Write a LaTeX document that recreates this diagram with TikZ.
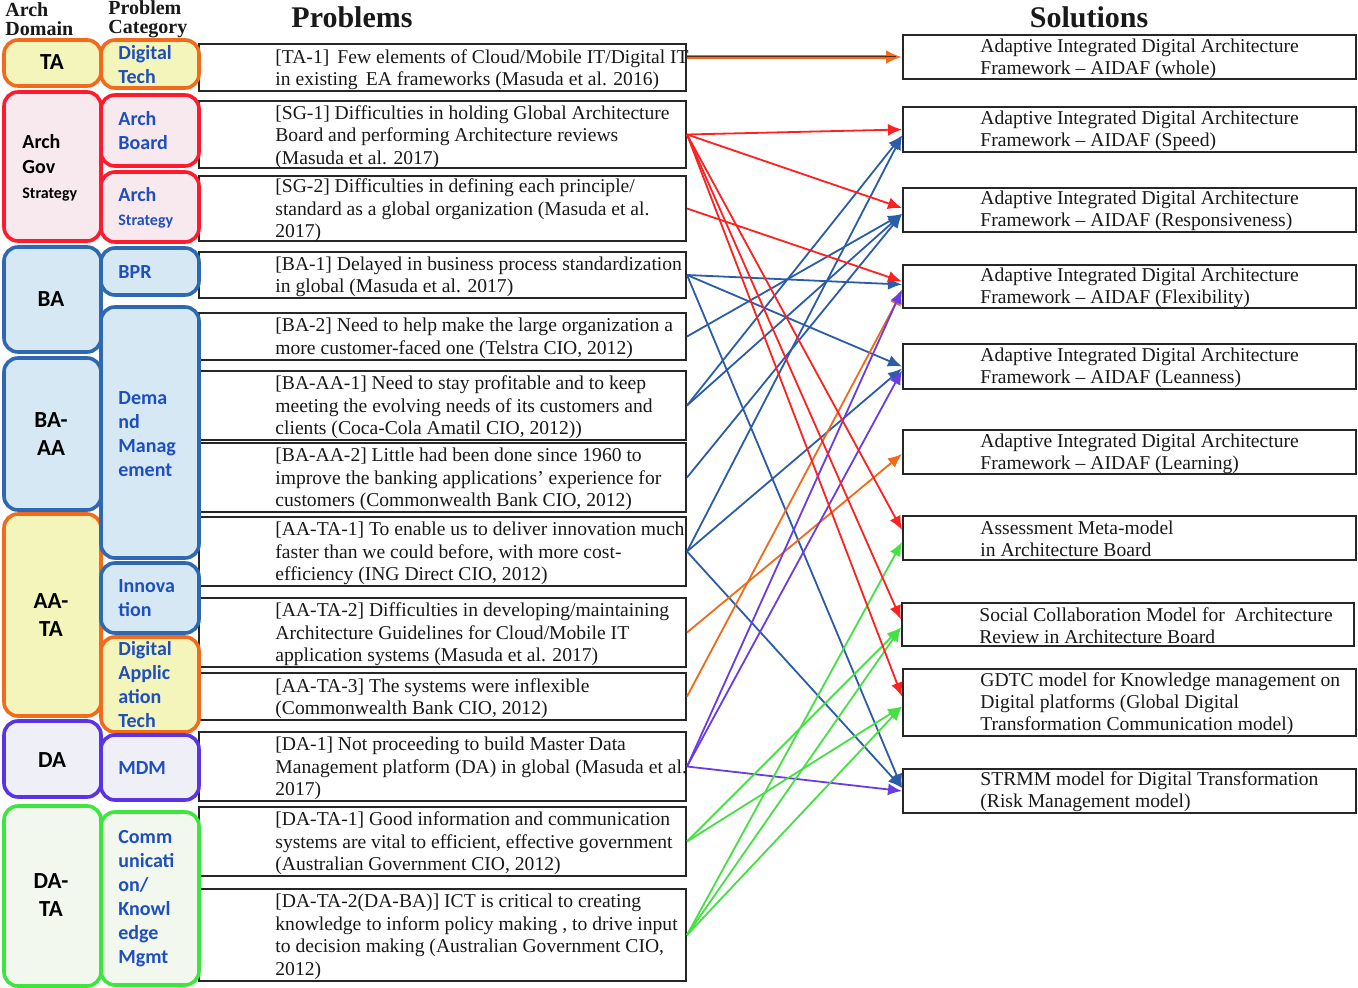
\documentclass[tikz,border=0pt]{standalone}
\usepackage{fontspec}
\usetikzlibrary{arrows.meta,fit,calc}
\newfontfamily\serifx[Ligatures=TeX]{Liberation Serif}
\newfontfamily\sansx{Carlito}
\definecolor{cOr}{HTML}{F26A1B}
\definecolor{cYe}{HTML}{F3F5BB}
\definecolor{cRe}{HTML}{FF1A2E}
\definecolor{cPk}{HTML}{F8E9EE}
\definecolor{cBl}{HTML}{2E68B2}
\definecolor{cLb}{HTML}{D5E8F4}
\definecolor{cPu}{HTML}{5A33E6}
\definecolor{cLv}{HTML}{EFEFF7}
\definecolor{cGr}{HTML}{3DE63D}
\definecolor{cLg}{HTML}{F3F8EF}
\definecolor{cTx}{HTML}{1F4FBF}
\definecolor{aRe}{HTML}{FF2020}
\definecolor{aBl}{HTML}{2A5CA8}
\definecolor{aOr}{HTML}{F06A1A}
\definecolor{aPu}{HTML}{6A3CE6}
\definecolor{aGr}{HTML}{44E044}
\definecolor{aDk}{HTML}{5A2A10}
\tikzset{
  rbox/.style={rounded corners=7pt, line width=1.8pt, inner sep=0pt},
  pbox/.style={draw=black!85, line width=1pt, inner sep=0pt},
  ptxt/.style={anchor=west, align=left, inner sep=0pt, text=black!90,
    font=\serifx\fontsize{9.8}{11.25}\selectfont},
  stxt/.style={anchor=west, align=left, inner sep=0pt, text=black!90,
    font=\serifx\fontsize{9.8}{11}\selectfont},
  ctxt/.style={anchor=west, align=left, inner sep=0pt, text=cTx,
    font=\sansx\bfseries\fontsize{10}{12}\selectfont},
  dtxt/.style={align=center, inner sep=0pt, text=black,
    font=\sansx\bfseries\fontsize{11.5}{14}\selectfont},
  htxt/.style={anchor=west, align=left, inner sep=0pt, text=black!90,
    font=\serifx\bfseries\fontsize{10}{9.5}\selectfont},
  ttl/.style={inner sep=0pt, text=black!90, font=\serifx\bfseries\fontsize{15}{16}\selectfont},
  conn/.style={line width=0.9pt, -{Latex[length=7pt,width=6pt]}},
}
\begin{document}
\begin{tikzpicture}[x=0.5pt,y=-0.5pt]
\useasboundingbox[fill=white] (0,0) rectangle (1358,988);

% headers
\node[htxt] (hd) at (5,19) {Arch\\Domain};
\node[htxt] (hc) at (108,19) {Problem\\Category};
\node[ttl] (hp) at (352,17) {Problems};
\node[ttl] (hs) at (1089,17) {Solutions};

% problem boxes
\node[pbox, fit={(199,44)(686,91)}] (p1) {};
\node[pbox, fit={(199,101)(686,168)}] (p2) {};
\node[pbox, fit={(199,176)(686,241)}] (p3) {};
\node[pbox, fit={(199,252)(686,298)}] (p4) {};
\node[pbox, fit={(199,313)(686,360)}] (p5) {};
\node[pbox, fit={(199,371)(686,440)}] (p6) {};
\node[pbox, fit={(199,443)(686,512)}] (p7) {};
\node[pbox, fit={(199,517)(686,586)}] (p8) {};
\node[pbox, fit={(199,598)(686,667)}] (p9) {};
\node[pbox, fit={(199,673)(686,720)}] (p10) {};
\node[pbox, fit={(199,732)(686,801)}] (p11) {};
\node[pbox, fit={(199,807)(686,876)}] (p12) {};
\node[pbox, fit={(199,889)(686,981)}] (p13) {};

\node[ptxt] (t1) at (275,69.5) {[TA-1]\, Few elements of Cloud/Mobile IT/Digital IT\\in existing\, EA frameworks (Masuda et al. 2016)};
\node[ptxt] (t2) at (275,137) {[SG-1] Difficulties in holding Global Architecture\\Board and performing Architecture reviews\\(Masuda et al. 2017)};
\node[ptxt] (t3) at (275,210.5) {[SG-2] Difficulties in defining each principle/\\standard as a global organization (Masuda et al.\\2017)};
\node[ptxt] (t4) at (275,277) {[BA-1] Delayed in business process standardization\\in global (Masuda et al. 2017)};
\node[ptxt] (t5) at (275,338.5) {[BA-2] Need to help make the large organization a\\more customer-faced one (Telstra CIO, 2012)};
\node[ptxt] (t6) at (275,407.5) {[BA-AA-1] Need to stay profitable and to keep\\meeting the evolving needs of its customers and\\clients (Coca-Cola Amatil CIO, 2012))};
\node[ptxt] (t7) at (275,479.5) {[BA-AA-2] Little had been done since 1960 to\\improve the banking applications' experience for\\customers (Commonwealth Bank CIO, 2012)};
\node[ptxt] (t8) at (275,553.5) {[AA-TA-1] To enable us to deliver innovation much\\faster than we could before, with more cost-\\efficiency (ING Direct CIO, 2012)};
\node[ptxt] (t9) at (275,634.5) {[AA-TA-2] Difficulties in developing/maintaining\\Architecture Guidelines for Cloud/Mobile IT\\application systems (Masuda et al. 2017)};
\node[ptxt] (t10) at (275,698.5) {[AA-TA-3] The systems were inflexible\\(Commonwealth Bank CIO, 2012)};
\node[ptxt] (t11) at (275,768.5) {[DA-1] Not proceeding to build Master Data\\Management platform (DA) in global (Masuda et al.\\2017)};
\node[ptxt] (t12) at (275,843.5) {[DA-TA-1] Good information and communication\\systems are vital to efficient, effective government\\(Australian Government CIO, 2012)};
\node[ptxt] (t13) at (275,937) {[DA-TA-2(DA-BA)] ICT is critical to creating\\knowledge to inform policy making , to drive input\\to decision making (Australian Government CIO,\\2012)};

% domain boxes
\node[rbox, draw=cOr, fill=cYe, fit={(4,40)(101,86)}] (dTA) {};
\node[rbox, draw=cRe, fill=cPk, fit={(4,92)(101,241)}] (dAG) {};
\node[rbox, draw=cBl, fill=cLb, fit={(4,247)(101,352)}] (dBA) {};
\node[rbox, draw=cBl, fill=cLb, fit={(4,358)(101,510)}] (dBAAA) {};
\node[rbox, draw=cOr, fill=cYe, fit={(4,514)(101,716)}] (dAATA) {};
\node[rbox, draw=cPu, fill=cLv, fit={(4,721)(101,797)}] (dDA) {};
\node[rbox, draw=cGr, fill=cLg, fit={(4,806)(101,986)}] (dDATA) {};

\node[dtxt] (xTA) at (52,62) {TA};
\node[dtxt, anchor=west, align=left, font=\sansx\bfseries\fontsize{10}{12.5}\selectfont] (xAG) at (22,168) {Arch\\Gov\\{\fontsize{8}{10}\selectfont Strategy}};
\node[dtxt] (xBA) at (51,299) {BA};
\node[dtxt] (xBAAA) at (51,434) {BA-\\AA};
\node[dtxt] (xAATA) at (51,615) {AA-\\TA};
\node[dtxt] (xDA) at (52,760) {DA};
\node[dtxt] (xDATA) at (51,895) {DA-\\TA};

% category boxes
\node[rbox, draw=cOr, fill=cYe, fit={(101,40)(199,88)}] (cDT) {};
\node[rbox, draw=cRe, fill=cPk, fit={(101,95)(199,166)}] (cAB) {};
\node[rbox, draw=cRe, fill=cPk, fit={(101,172)(199,242)}] (cAS) {};
\node[rbox, draw=cBl, fill=cLb, fit={(101,248)(199,295)}] (cBPR) {};
\node[rbox, draw=cBl, fill=cLb, fit={(101,307)(199,558)}] (cDM) {};
\node[rbox, draw=cBl, fill=cLb, fit={(101,563)(199,633)}] (cIN) {};
\node[rbox, draw=cOr, fill=cYe, fit={(101,637)(199,732)}] (cDAT) {};
\node[rbox, draw=cPu, fill=cLv, fit={(101,735)(199,800)}] (cMDM) {};
\node[rbox, draw=cGr, fill=cLg, fit={(101,812)(199,985)}] (cCK) {};

\node[ctxt] (yDT) at (118,65) {Digital\\Tech};
\node[ctxt] (yAB) at (118,131) {Arch\\Board};
\node[ctxt] (yAS) at (118,208) {Arch\\{\fontsize{8}{10}\selectfont Strategy}};
\node[ctxt] (yBPR) at (118,272) {BPR};
\node[ctxt] (yDM) at (118,434) {Dema\\nd\\Manag\\ement};
\node[ctxt] (yIN) at (118,598) {Innova\\tion};
\node[ctxt] (yDAT) at (118,685) {Digital\\Applic\\ation\\Tech};
\node[ctxt] (yMDM) at (118,768) {MDM};
\node[ctxt] (yCK) at (118,899) {Comm\\unicati\\on/\\Knowl\\edge\\Mgmt};

% solution boxes
\node[pbox, fit={(903,35)(1356,79)}] (s1) {};
\node[pbox, fit={(903,107)(1356,152)}] (s2) {};
\node[pbox, fit={(903,188)(1356,232)}] (s3) {};
\node[pbox, fit={(903,265)(1356,308)}] (s4) {};
\node[pbox, fit={(903,344)(1356,389)}] (s5) {};
\node[pbox, fit={(903,430)(1356,474)}] (s6) {};
\node[pbox, fit={(903,516)(1356,560)}] (s7) {};
\node[pbox, fit={(902,603)(1354,646)}] (s8) {};
\node[pbox, fit={(903,669)(1356,736)}] (s9) {};
\node[pbox, fit={(903,769)(1356,813)}] (s10) {};

\node[stxt] (u1) at (980,59) {Adaptive Integrated Digital Architecture\\Framework \textendash\ AIDAF (whole)};
\node[stxt] (u2) at (980,131) {Adaptive Integrated Digital Architecture\\Framework \textendash\ AIDAF (Speed)};
\node[stxt] (u3) at (980,211) {Adaptive Integrated Digital Architecture\\Framework \textendash\ AIDAF (Responsiveness)};
\node[stxt] (u4) at (980,288) {Adaptive Integrated Digital Architecture\\Framework \textendash\ AIDAF (Flexibility)};
\node[stxt] (u5) at (980,368) {Adaptive Integrated Digital Architecture\\Framework \textendash\ AIDAF (Leanness)};
\node[stxt] (u6) at (980,454) {Adaptive Integrated Digital Architecture\\Framework \textendash\ AIDAF (Learning)};
\node[stxt] (u7) at (980,539) {Assessment Meta-model\\in Architecture Board};
\node[stxt] (u8) at (979,626) {Social Collaboration Model for\ \ Architecture\\Review in Architecture Board};
\node[stxt] (u9) at (980,704) {GDTC model for Knowledge management on\\Digital platforms (Global Digital\\Transformation Communication model)};
\node[stxt] (u10) at (980,792) {STRMM model for Digital Transformation\\(Risk Management model)};

% connectors
\draw[line width=2pt, aOr, -{Latex[length=8pt,width=7pt]}] (s1.west -| p1.east) -- (s1.west);
\draw[line width=0.5pt, aDk, shorten >=3pt] (s1.west -| p1.east) -- (s1.west);

\begin{scope}[conn, aBl]
\draw (p4.east) -- ($(s4.west)+(0,-2)$);
\draw (p4.east) -- ($(s5.west)+(0,0)$);
\draw (p4.east) -- ($(s10.west)+(0,-3)$);
\draw (p5.east) -- ($(s3.west)+(0,4)$);
\draw (p6.east) -- ($(s2.west)+(0,6)$);
\draw (p6.east) -- ($(s3.west)+(0,4)$);
\draw (p7.east) -- ($(s3.west)+(0,4)$);
\draw (p8.east) -- ($(s2.west)+(0,6)$);
\draw (p8.east) -- ($(s5.west)+(0,2)$);
\draw (p8.east) -- ($(s10.west)+(0,-3)$);
\end{scope}

\begin{scope}[conn, aOr]
\draw (p9.east) -- ($(s6.west)+(0,2)$);
\draw (p10.east) -- ($(s4.west)+(0,5)$);
\end{scope}

\begin{scope}[conn, aPu]
\draw (p11.east) -- ($(s4.west)+(0,3)$);
\draw (p11.east) -- ($(s5.west)+(0,4)$);
\draw (p11.east) -- ($(s10.west)+(0,0)$);
\end{scope}

\begin{scope}[conn, aGr]
\draw (p12.east) -- ($(s8.west)+(0,3)$);
\draw (p12.east) -- ($(s9.west)+(0,4)$);
\draw (p13.east) -- ($(s7.west)+(0,4)$);
\draw (p13.east) -- ($(s8.west)+(0,3)$);
\draw (p13.east) -- ($(s9.west)+(0,4)$);
\end{scope}

\begin{scope}[conn, aRe]
\draw (p2.east) -- ($(s2.west)+(0,0)$);
\draw (p2.east) -- ($(s3.west)+(0,-2)$);
\draw (p2.east) -- ($(s7.west)+(0,-8)$);
\draw (p2.east) -- ($(s8.west)+(0,-5)$);
\draw (p2.east) -- ($(s9.west)+(0,-6)$);
\draw (p3.east) -- ($(s4.west)+(0,-5)$);
\end{scope}
\end{tikzpicture}
\end{document}
